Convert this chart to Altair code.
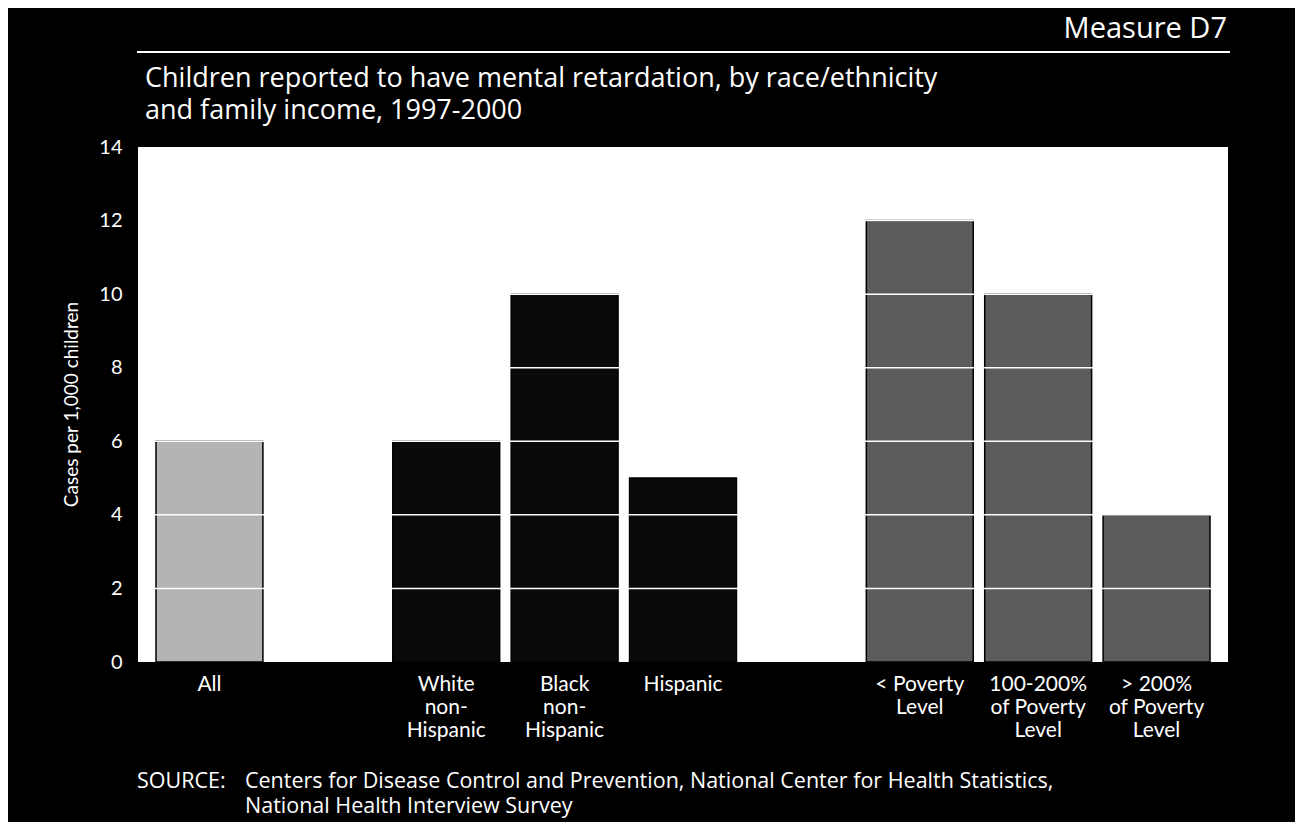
import altair as alt
import pandas as pd

# Category slots (gap slots are empty spacers between groups)
slots = ["All", "gap1", "White|non-|Hispanic", "Black|non-|Hispanic", "Hispanic",
         "gap2", "< Poverty|Level", "100-200%|of Poverty|Level", "> 200%|of Poverty|Level"]
bar_categories = ["All", "White|non-|Hispanic", "Black|non-|Hispanic", "Hispanic",
                  "< Poverty|Level", "100-200%|of Poverty|Level", "> 200%|of Poverty|Level"]
values = [6, 6, 10, 5, 12, 10, 4]
groups = ["Total", "Race/ethnicity", "Race/ethnicity", "Race/ethnicity",
          "Income", "Income", "Income"]
group_names = ["Total", "Race/ethnicity", "Income"]
group_colors = ["#b4b4b4", "#0a0a0a", "#5c5c5c"]
y_ticks = [0, 2, 4, 6, 8, 10, 12, 14]
grid_values = [2, 4, 6, 8, 10, 12]

title_line1 = "Children reported to have mental retardation, by race/ethnicity"
title_line2 = "and family income, 1997-2000"
measure_label = "Measure D7"
source_head = "SOURCE:"
source_line1 = "Centers for Disease Control and Prevention, National Center for Health Statistics,"
source_line2 = "National Health Interview Survey"

W, H = 1090, 515
FONT = "Lato"
FONT2 = "Open Sans"

bars_df = pd.DataFrame({"category": bar_categories, "value": values, "group": groups})
grid_df = pd.DataFrame({"g": grid_values})
one = pd.DataFrame({"k": [0]})

x_enc = alt.X("category:N", sort=slots,
              scale=alt.Scale(domain=slots, paddingInner=0.097, paddingOuter=0.152),
              axis=alt.Axis(title=None, labelAngle=0, ticks=False, domain=False,
                            labelColor="white", labelFontSize=21, labelFont=FONT,
                            labelLineHeight=23, labelPadding=11, labelBaseline="top",
                            labelExpr="indexof(datum.value,'gap')==0 ? '' : split(datum.value,'|')"))
y_scale = alt.Scale(domain=[0, 14], nice=False)

bars = alt.Chart(bars_df).mark_bar(stroke="black", strokeWidth=1.5).encode(
    x=x_enc,
    y=alt.Y("value:Q", scale=y_scale,
            axis=alt.Axis(values=y_ticks, grid=False, ticks=False, domain=False,
                          labelColor="white", labelFontSize=20, labelFont=FONT,
                          labelPadding=16, title="Cases per 1,000 children",
                          titleColor="white", titleFontSize=19, titleFont=FONT,
                          titleFontWeight="normal", titleBaseline="middle",
                          titleX=-67, titleY=257)),
    color=alt.Color("group:N", scale=alt.Scale(domain=group_names, range=group_colors),
                    legend=None),
)

grid = alt.Chart(grid_df).mark_rule(color="white", strokeWidth=1.5).encode(
    y=alt.Y("g:Q", scale=y_scale)
)


def label(text, x, y, size, align="left", font=FONT):
    return alt.Chart(one).mark_text(align=align, baseline="alphabetic", color="white",
                                    fontSize=size, font=font).encode(
        x=alt.value(x), y=alt.value(y), text=alt.value(text))


measure = label(measure_label, W - 1, -109, 29, align="right", font=FONT2)
t1 = label(title_line1, 7, -60, 27, font=FONT2)
t2 = label(title_line2, 7, -28, 27, font=FONT2)
s0 = label(source_head, -1, 641, 21.5, font=FONT2)
s1 = label(source_line1, 107, 641, 21.5, font=FONT2)
s2 = label(source_line2, 107, 666, 21.5, font=FONT2)

top_rule = alt.Chart(one).mark_rule(color="white", strokeWidth=2).encode(
    x=alt.value(-1), x2=alt.value(W + 2), y=alt.value(-95))

chart = alt.layer(bars, grid, measure, top_rule, t1, t2, s0, s1, s2).properties(
    width=W, height=H,
    padding={"left": 130, "top": 139, "right": 67, "bottom": 160},
    autosize=alt.AutoSizeParams(type="none"),
    background="black",
).configure_view(fill="white", stroke=None)

chart.save("out.html", embed_options={"renderer": "svg", "actions": False})
